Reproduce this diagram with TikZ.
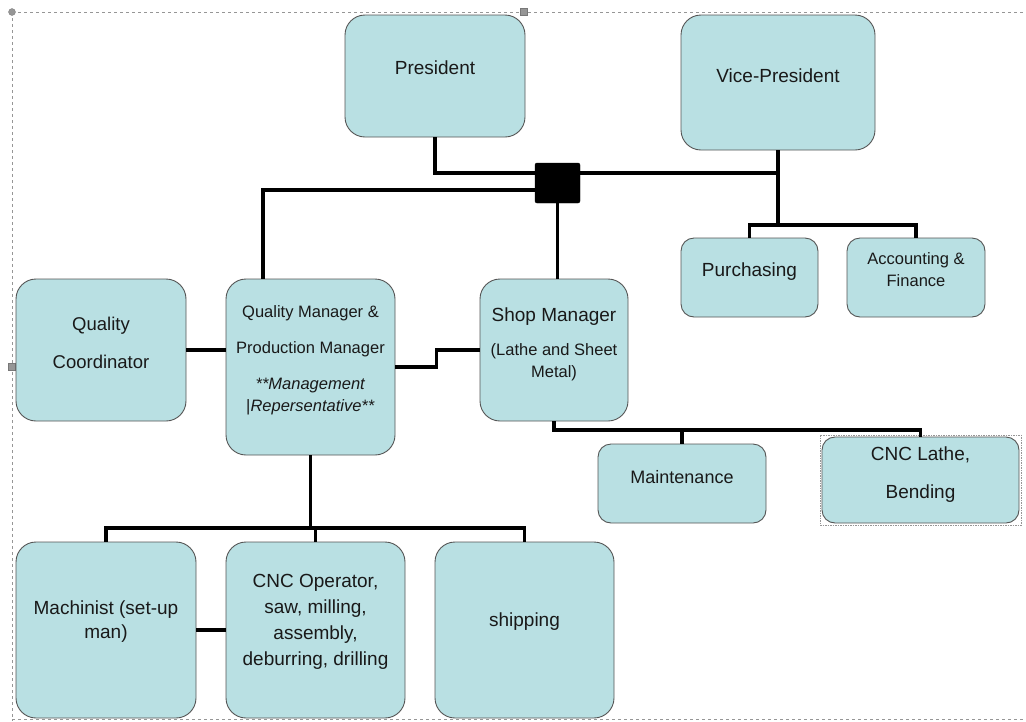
\documentclass[tikz,border=0pt]{standalone}
\usepackage{fontspec}
\setmainfont{Liberation Sans}
\usepackage{tikz}
\usetikzlibrary{positioning, calc}
\definecolor{boxfill}{RGB}{185,224,227}
\definecolor{boxedge}{RGB}{85,85,85}
\definecolor{txtdark}{RGB}{25,25,25}
\definecolor{framegray}{RGB}{150,150,150}
\tikzset{
  box/.style={rectangle, draw=boxedge, fill=boxfill, line width=0.9pt,
    rounded corners=20pt, inner sep=0pt},
  smallbox/.style={box, rounded corners=13pt},
  hub/.style={rectangle, fill=black, draw=black, rounded corners=2pt,
    minimum width=45pt, minimum height=40pt, inner sep=0pt},
  wire/.style={line width=3.1pt, color=black},
  txt/.style={align=center, color=txtdark, inner sep=0pt,
    font=\fontsize{19}{24}\selectfont},
  smalltxt/.style={txt, font=\fontsize{16.5}{22}\selectfont},
  pageframe/.style={dashed, thin, color=framegray},
  handle/.style={fill=framegray, draw=framegray!80!black, line width=0.3pt}
}
\begin{document}
\begin{tikzpicture}[x=1pt, y=-1pt]
  \useasboundingbox (0,0) rectangle (1026,721);
  % Page frame and handles
  \draw[pageframe] (12,12) -- (1026,12);
  \draw[pageframe] (12,12) -- (12,721);
  \draw[pageframe] (12,719) -- (1026,719);
  \fill[handle] (12,12) circle (3.5pt);
  \filldraw[handle] (520.5,8.5) rectangle (527.5,15.5);
  \filldraw[handle] (8.5,363.5) rectangle (15.5,370.5);
  % Top level
  \node[box, minimum width=180pt, minimum height=122pt] (pres) at (435,76) {};
  \node[txt] (presT) at ([yshift=8pt]pres.center) {President};
  \node[box, minimum width=194pt, minimum height=135pt] (vp) at (778,82.5) {};
  \node[txt] (vpT) at ([yshift=7pt]vp.center) {Vice-President};
  % Finance branch
  \node[smallbox, minimum width=137pt, minimum height=79pt] (purch) at (749.5,277.5) {};
  \node[txt] (purchT) at ([yshift=6pt]purch.center) {Purchasing};
  \node[smallbox, minimum width=138pt, minimum height=79pt] (acct) at (916,277.5) {};
  \node[smalltxt] (acctT) at ([yshift=8pt]acct.center) {Accounting \&\\Finance};
  % Middle level
  \node[box, minimum width=170pt, minimum height=142pt] (qc) at (101,350) {};
  \node[txt, font=\fontsize{18.5}{22}\selectfont] (qcT) at (101,343) {Quality\\[16pt]Coordinator};
  \node[box, minimum width=169pt, minimum height=176pt] (qm) at (310.5,367) {};
  \node[smalltxt] (qmT) at (310.5,360) {Quality Manager \&\\[14pt]Production Manager\\[14pt]\textit{**Management}\\|\textit{Repersentative**}};
  \node[box, minimum width=148pt, minimum height=142pt] (shop) at (554,350) {};
  \node[smalltxt] (shopT) at (554,344) {{\fontsize{19}{24}\selectfont Shop Manager}\\[12pt](Lathe and Sheet\\Metal)};
  % Shop branch
  \node[smallbox, minimum width=168pt, minimum height=79pt] (maint) at (682,483.5) {};
  \node[txt, font=\fontsize{18}{22}\selectfont] (maintT) at ([yshift=6pt]maint.center) {Maintenance};
  \node[smallbox, minimum width=197pt, minimum height=86pt] (lathe) at (920.5,480) {};
  \draw[pageframe, dash pattern=on 1.5pt off 1pt] (820,435) rectangle (1021,525);
  \node[txt, font=\fontsize{19}{23}\selectfont] (latheT) at (920.5,475) {CNC Lathe,\\[15pt]Bending};
  % Floor level
  \node[box, minimum width=180pt, minimum height=176pt] (mach) at (106,630) {};
  \node[txt] (machT) at (106,622) {Machinist (set-up\\man)};
  \node[box, minimum width=179pt, minimum height=176pt] (cnc) at (315.5,630) {};
  \node[txt, font=\fontsize{19}{26}\selectfont] (cncT) at (315.5,622) {CNC Operator,\\saw, milling,\\assembly,\\deburring, drilling};
  \node[box, minimum width=179pt, minimum height=176pt] (ship) at (524.5,630) {};
  \node[txt] (shipT) at (524.5,622) {shipping};
  % Connectors
  \coordinate (vpjoin) at (778,173);
  \coordinate (finbus) at (778,225);
  \coordinate (shopbus) at (682,430);
  \coordinate (floorbus) at (310.5,528);
  \draw[wire] (pres.south) |- (vpjoin);
  \draw[wire] (vp.south) -- (finbus);
  \draw[wire] (purch.north) |- (finbus) -| (acct.north);
  \node[hub] (hub) at (557.5,183) {};
  \draw[wire] ([yshift=-7pt]hub.west) -| ([xshift=-47.5pt]qm.north);
  \draw[wire] (hub.south) -- (hub.south |- shop.north);
  \draw[wire] (qc.east |- 0,350) -- (qm.west |- 0,350);
  \draw[wire] (qm.east) -- ++(41,0) |- (shop.west);
  \draw[wire] (shop.south) |- (shopbus) -| (lathe.north);
  \draw[wire] (shopbus) -- (maint.north);
  \draw[wire] (qm.south) -- (floorbus);
  \draw[wire] (mach.north) |- (floorbus) -| (ship.north);
  \draw[wire] (floorbus -| cnc.north) -- (cnc.north);
  \draw[wire] (mach.east) -- (cnc.west);
\end{tikzpicture}
\end{document}
